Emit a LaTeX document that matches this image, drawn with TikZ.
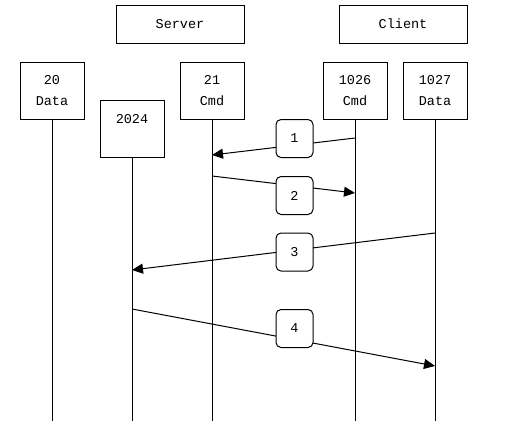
\documentclass[tikz,border=0pt]{standalone}
\usepackage{fontspec}
\newfontfamily\portfont{Liberation Mono}
\usetikzlibrary{arrows.meta}

\begin{document}
\begin{tikzpicture}[x=1pt, y=-1pt, line width=1pt, every node/.style={font=\portfont\fontsize{13.5}{21}\selectfont}]
    % Styles
    \tikzstyle{side} = [rectangle, minimum width=128pt, minimum height=38pt, draw=black, inner sep=0pt]
    \tikzstyle{port} = [rectangle, minimum width=64pt, minimum height=57pt, text centered, align=center, draw=black, inner sep=0pt]
    \tikzstyle{num} = [rectangle, rounded corners=5pt, minimum width=37pt, minimum height=38pt, draw=black, fill=white, inner sep=0pt]
    \tikzstyle{arrow} = [-{Triangle[length=11pt,width=10pt]}]

    \useasboundingbox (0,0) rectangle (506,434);

    % Nodes
    \node (server) [side] at (180,24) {Server};
    \node (client) [side] at (403,24) {Client};
    \node (data20)   [port] at (52,90.5)  {20\\Data};
    \node (cmd21)    [port] at (212,90.5) {21\\Cmd};
    \node (cmd1026)  [port] at (355,90.5) {1026\\Cmd};
    \node (data1027) [port] at (435,90.5) {1027\\Data};
    \node (p2024) [port, anchor=north, minimum height=0pt, text height=23pt, text depth=34pt] at (132,100) {2024};

    % Lifelines
    \coordinate (data20end)   at (data20 |- 0,421);
    \coordinate (p2024end)    at (p2024 |- 0,421);
    \coordinate (cmd21end)    at (cmd21 |- 0,421);
    \coordinate (cmd1026end)  at (cmd1026 |- 0,421);
    \coordinate (data1027end) at (data1027 |- 0,421);
    \draw (data20) -- (data20end);
    \draw (p2024) -- (p2024end);
    \draw (cmd21) -- (cmd21end);
    \draw (cmd1026) -- (cmd1026end);
    \draw (data1027) -- (data1027end);

    % Arrows
    \coordinate (m1a) at (cmd1026 |- 0,138);  \coordinate (m1b) at (cmd21 |- 0,155);
    \coordinate (m2a) at (cmd21 |- 0,176);    \coordinate (m2b) at (cmd1026 |- 0,193);
    \coordinate (m3a) at (data1027 |- 0,233); \coordinate (m3b) at (p2024 |- 0,270);
    \coordinate (m4a) at (p2024 |- 0,309);    \coordinate (m4b) at (data1027 |- 0,366);
    \draw [arrow] (m1a) -- (m1b);
    \draw [arrow] (m2a) -- (m2b);
    \draw [arrow] (m3a) -- (m3b);
    \draw [arrow] (m4a) -- (m4b);

    % Step numbers
    \node (n1) [num] at (294.5,138.5) {1};
    \node (n2) [num] at (294.5,195.5) {2};
    \node (n3) [num] at (294.5,252)   {3};
    \node (n4) [num] at (294.5,328.5) {4};
\end{tikzpicture}
\end{document}
